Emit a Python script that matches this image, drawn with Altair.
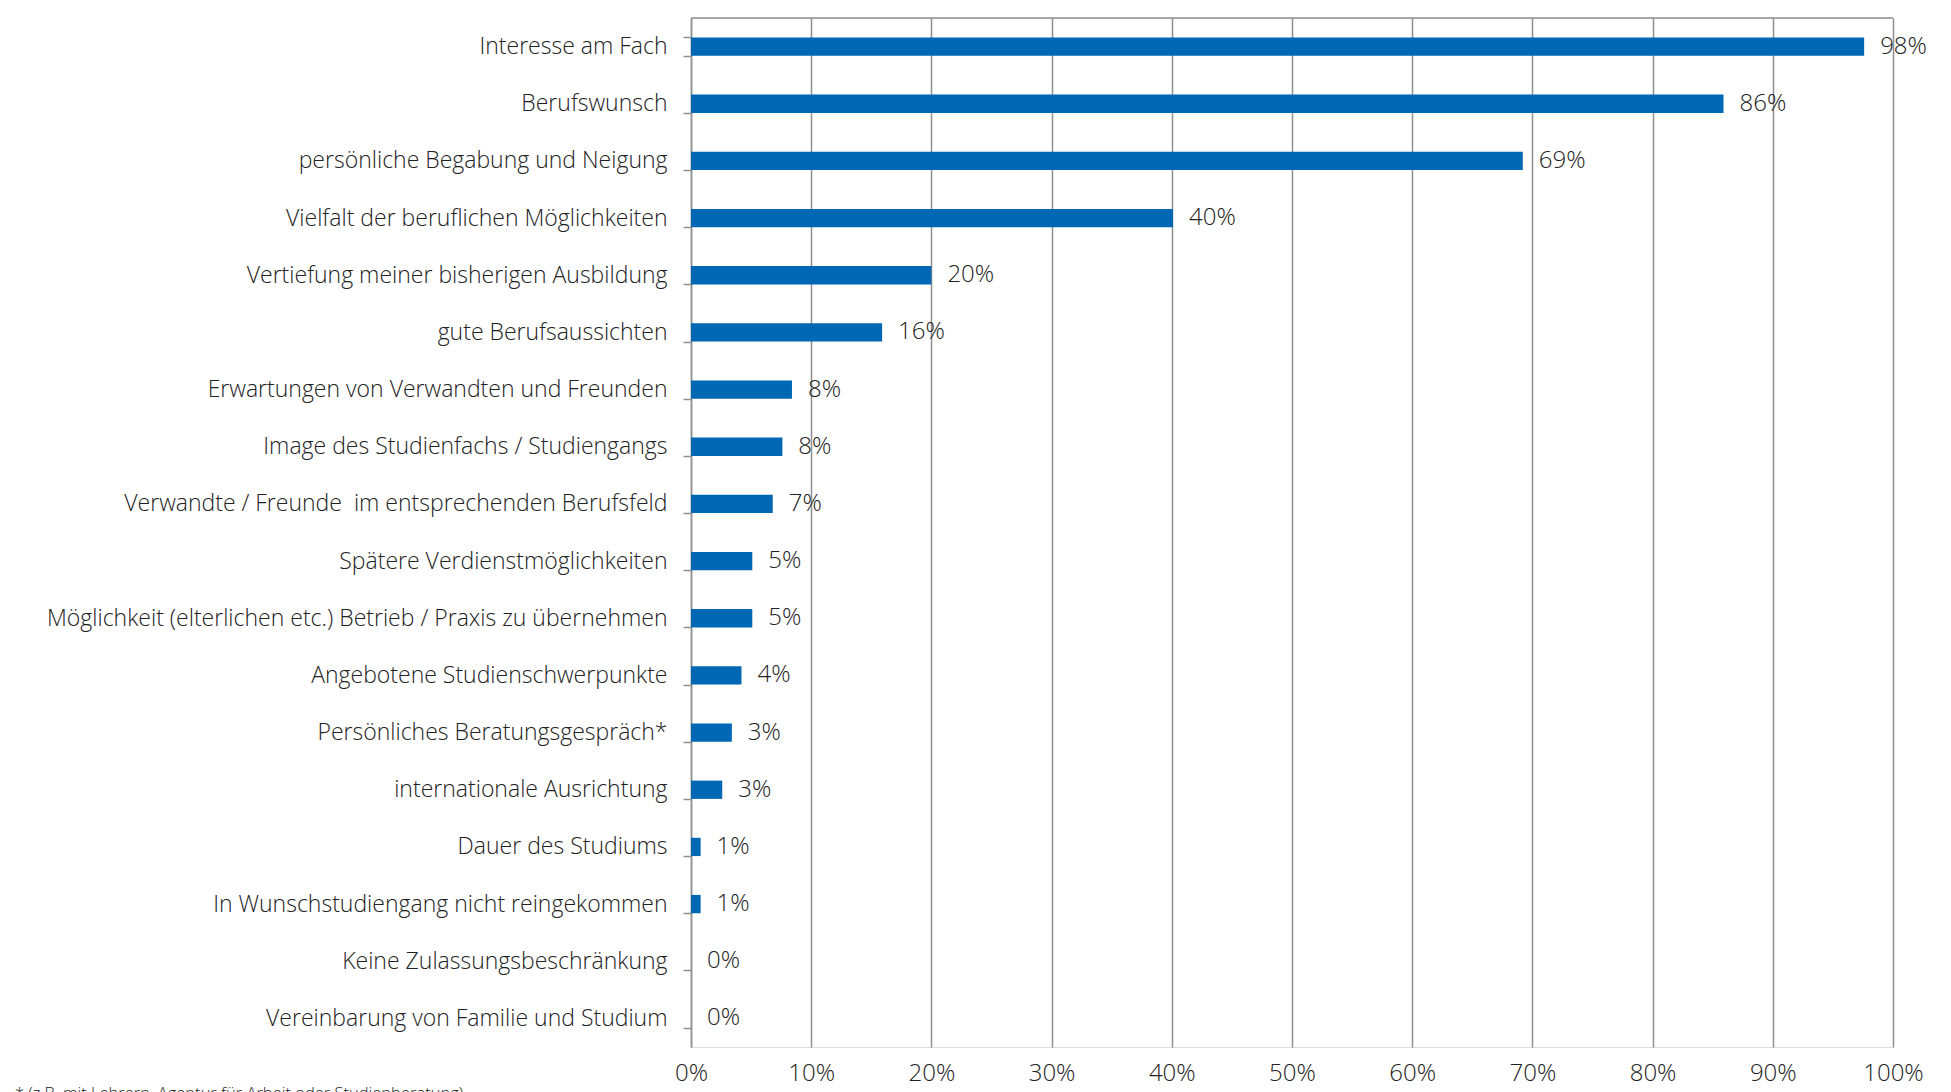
import altair as alt
import pandas as pd

categories = [
    "Interesse am Fach",
    "Berufswunsch",
    "persönliche Begabung und Neigung",
    "Vielfalt der beruflichen Möglichkeiten",
    "Vertiefung meiner bisherigen Ausbildung",
    "gute Berufsaussichten",
    "Erwartungen von Verwandten und Freunden",
    "Image des Studienfachs / Studiengangs",
    "Verwandte / Freunde\u00a0 im entsprechenden Berufsfeld",
    "Spätere Verdienstmöglichkeiten",
    "Möglichkeit (elterlichen etc.) Betrieb / Praxis zu übernehmen\u00a0",
    "Angebotene Studienschwerpunkte",
    "Persönliches Beratungsgespräch*",
    "internationale Ausrichtung",
    "Dauer des Studiums",
    "In Wunschstudiengang nicht reingekommen",
    "Keine Zulassungsbeschränkung",
    "Vereinbarung von Familie und Studium",
]
values = [97.6, 85.9, 69.2, 40.1, 20.0, 15.9, 8.4, 7.6, 6.8, 5.1, 5.1, 4.2, 3.4, 2.6, 0.8, 0.8, 0.0, 0.0]
value_labels = ["98%", "86%", "69%", "40%", "20%", "16%", "8%", "8%", "7%", "5%", "5%",
                "4%", "3%", "3%", "1%", "1%", "0%", "0%"]
x_ticks = [0, 10, 20, 30, 40, 50, 60, 70, 80, 90, 100]
footnote = "*  (z.B. mit Lehrern, Agentur für Arbeit oder Studienberatung)"

df = pd.DataFrame({"cat": categories, "val": values, "lab": value_labels})

FONT = "Open Sans"
TXT = "#222222"
GRID = "#8f8f8f"
BAR = "#0067B4"

W, H = 1202, 1029

y_enc = alt.Y(
    "cat:N",
    sort=categories,
    title=None,
    scale=alt.Scale(paddingInner=0.68, paddingOuter=0.34),
    axis=alt.Axis(
        domain=True, domainColor=GRID, domainWidth=1.5,
        ticks=True, tickColor=GRID, tickWidth=1.5, tickSize=8, tickBand="extent",
        labelFont=FONT, labelFontSize=23, labelFontWeight=300, labelColor=TXT,
        labelPadding=16, labelLimit=800, grid=False,
    ),
)
x_enc = alt.X(
    "val:Q",
    title=None,
    scale=alt.Scale(domain=[0, 100], nice=False),
    axis=alt.Axis(
        values=x_ticks, labelExpr="datum.value + '%'",
        domain=False, ticks=False, grid=True, gridColor=GRID, gridWidth=1.5,
        labelFont=FONT, labelFontSize=24, labelFontWeight=300, labelColor=TXT,
        labelPadding=14, labelFlush=False,
    ),
)

base = alt.Chart(df)
bars = base.mark_bar(color=BAR).encode(x=x_enc, y=y_enc)
texts = base.mark_text(
    align="left", baseline="middle", dx=16, font=FONT, fontSize=24, fontWeight=300, color=TXT
).encode(x="val:Q", y=alt.Y("cat:N", sort=categories), text="lab:N")

top_line = alt.Chart(pd.DataFrame({"a": [0], "b": [100]})).mark_rule(
    color=GRID, strokeWidth=1.5
).encode(x="a:Q", x2="b:Q", y=alt.value(0))

note = alt.Chart(pd.DataFrame({"t": [footnote]})).mark_text(
    align="left", baseline="top", font=FONT, fontSize=16.5, fontWeight=300, color=TXT
).encode(text="t:N", x=alt.value(-676), y=alt.value(1068))

chart = alt.layer(bars, texts, top_line, note).properties(
    width=W, height=H,
    autosize=alt.AutoSizeParams(type="none"),
    padding={"left": 683, "top": 10, "right": 50, "bottom": 45},
).configure_view(stroke=None).configure(background="white")

chart.save("out.html", embed_options={"renderer": "svg", "actions": False})
